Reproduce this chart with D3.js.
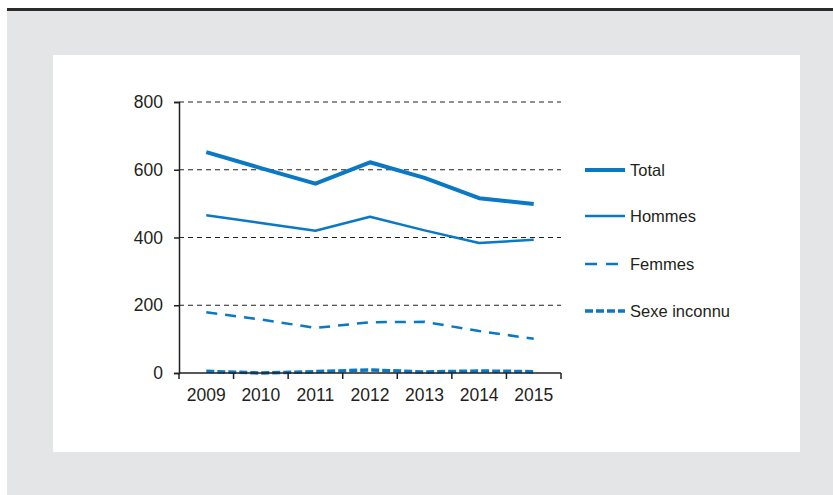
<!DOCTYPE html>
<html>
<head>
<meta charset="utf-8">
<script src="https://cdn.jsdelivr.net/npm/d3@7"></script>
<style>
  html, body { margin: 0; padding: 0; background: #fff; }
  svg { display: block; font-family: "Liberation Sans", Arial, sans-serif; }
</style>
</head>
<body>
<svg id="chart" width="833" height="495"></svg>
<script>
// Années et effectifs par sexe
const years = ["2009", "2010", "2011", "2012", "2013", "2014", "2015"];
const total = [652, 605, 559, 622, 576, 516, 499];
const hommes = [466, 443, 420, 461, 421, 384, 393];
const femmes = [179, 158, 133, 150, 151, 124, 101];
const inconnu = [5, 0, 4, 9, 3, 6, 4];
const yTicks = [0, 200, 400, 600, 800];

const seriesNames = ["Total", "Hommes", "Femmes", "Sexe inconnu"];
const seriesValues = [total, hommes, femmes, inconnu];
const seriesStyle = [
  { width: 4, dash: null },
  { width: 2.5, dash: null },
  { width: 2.5, dash: "11,8" },
  { width: 3.5, dash: "8,3" }
];

const blue = "#0a78c4";
const ink = "#231f20";
const svg = d3.select("#chart");

// Fond gris, filet supérieur et cadre blanc
svg.append("rect").attr("x", 7).attr("y", 10).attr("width", 826).attr("height", 485).attr("fill", "#e4e5e7");
svg.append("rect").attr("x", 7).attr("y", 8).attr("width", 826).attr("height", 3).attr("fill", "#2b2b2b");
svg.append("rect").attr("x", 53).attr("y", 55).attr("width", 747).attr("height", 397).attr("fill", "#ffffff");

const x = d3.scaleBand().domain(years).range([179, 561]);
const y = d3.scaleLinear().domain([0, 800]).range([373, 102]);

// Quadrillage horizontal
svg.append("g").selectAll("line")
  .data(yTicks.filter(d => d > 0))
  .join("line")
  .attr("x1", 179).attr("x2", 561)
  .attr("y1", d => y(d)).attr("y2", d => y(d))
  .attr("stroke", "#222").attr("stroke-width", 1)
  .attr("stroke-dasharray", "5,4");

// Courbes
const line = d3.line()
  .x((d, i) => x(years[i]) + x.bandwidth() / 2)
  .y(d => y(d));

seriesValues.forEach((vals, k) => {
  svg.append("path")
    .datum(vals)
    .attr("d", line)
    .attr("fill", "none")
    .attr("stroke", blue)
    .attr("stroke-width", seriesStyle[k].width)
    .attr("stroke-dasharray", seriesStyle[k].dash)
    .attr("stroke-linejoin", "round")
    .attr("stroke-linecap", "butt");
});

// Axe vertical
const yAxis = d3.axisLeft(y).tickValues(yTicks).tickSize(5).tickPadding(11);
const gy = svg.append("g").attr("transform", "translate(179,0)").call(yAxis);
gy.select(".domain").attr("stroke", ink).attr("stroke-width", 1.5);
gy.selectAll(".tick line").attr("stroke", ink).attr("stroke-width", 1.5);
gy.selectAll("text").attr("font-size", 17.5).attr("fill", ink)
  .attr("font-family", "Liberation Sans, Arial, sans-serif");

// Axe horizontal : graduations entre les années
const xAxis = d3.axisBottom(x).tickSize(0).tickPadding(16);
const gx = svg.append("g").attr("transform", "translate(0,373)").call(xAxis);
gx.select(".domain").remove();
gx.selectAll("text").attr("font-size", 17.5).attr("fill", ink)
  .attr("font-family", "Liberation Sans, Arial, sans-serif");
svg.append("line").attr("x1", 179).attr("x2", 561).attr("y1", 373).attr("y2", 373)
  .attr("stroke", ink).attr("stroke-width", 1.5);
svg.append("g").selectAll("line")
  .data(years.map(d => x(d)).concat([x(years[years.length - 1]) + x.bandwidth()]))
  .join("line")
  .attr("x1", d => d).attr("x2", d => d)
  .attr("y1", 373).attr("y2", 379)
  .attr("stroke", ink).attr("stroke-width", 1.5);

// Légende
const legendY = [170, 216, 264, 311];
const lg = svg.append("g");
seriesNames.forEach((name, k) => {
  lg.append("line")
    .attr("x1", 585).attr("x2", 625)
    .attr("y1", legendY[k]).attr("y2", legendY[k])
    .attr("stroke", blue)
    .attr("stroke-width", seriesStyle[k].width)
    .attr("stroke-dasharray", k === 2 ? "12,9" : seriesStyle[k].dash);
  lg.append("text")
    .attr("x", 630).attr("y", legendY[k]).attr("dy", "0.35em")
    .attr("font-size", 16.5).attr("fill", ink)
    .text(name);
});
</script>
</body>
</html>
